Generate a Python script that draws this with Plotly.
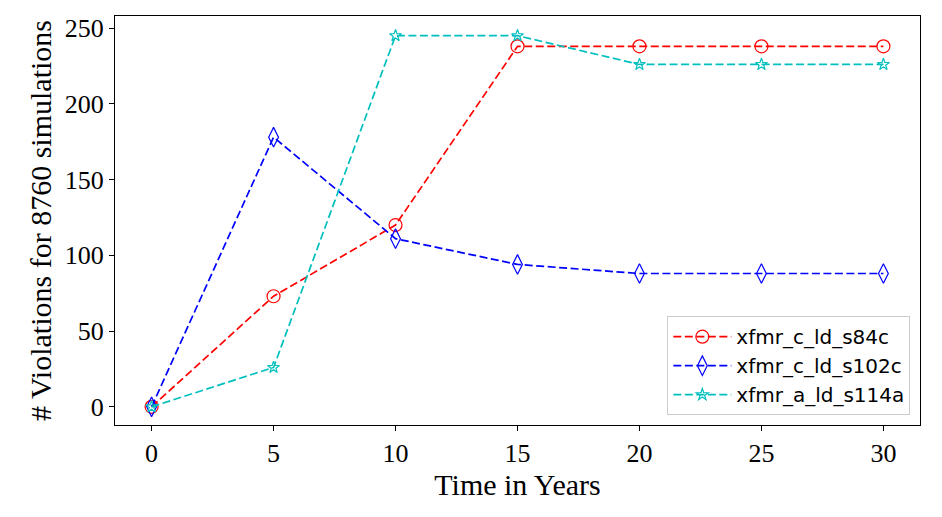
import plotly.graph_objects as go

years = [0, 5, 10, 15, 20, 25, 30]
s84c = [0, 73, 120, 238, 238, 238, 238]
s102c = [0, 178, 111, 94, 88, 88, 88]
s114a = [0, 26, 245, 245, 226, 226, 226]

series = [
    ("xfmr_c_ld_s84c", s84c, "red", "circle-open", 13),
    ("xfmr_c_ld_s102c", s102c, "blue", "diamond-tall-open", 14),
    ("xfmr_a_ld_s114a", s114a, "#00bfbf", "star-open", 9),
]

fig = go.Figure()
for name, vals, col, sym, size in series:
    fig.add_trace(go.Scatter(
        x=years, y=vals, name=name, mode="lines+markers",
        line=dict(color=col, dash="8px,3.5px", width=1.7),
        marker=dict(symbol=sym, size=size, color=col,
                    line=dict(color=col, width=1.2)),
    ))

axis_common = dict(
    showgrid=False, zeroline=False, showline=True, mirror=True,
    linecolor="black", linewidth=1.2, ticks="outside", ticklen=5,
    tickcolor="black", automargin=False,
    tickfont=dict(family="Liberation Serif", size=26, color="black"),
)

# page body has an 8px margin, so the figure is a bit smaller than the window
fig.update_layout(
    width=934, height=509,
    margin=dict(l=107, r=22, t=8, b=92),
    paper_bgcolor="white", plot_bgcolor="white",
    xaxis=dict(range=[-1.5, 31.5], tickvals=years,
               title=dict(text="Time in Years", standoff=2,
                          font=dict(family="Liberation Serif", size=30, color="black")),
               **axis_common),
    yaxis=dict(range=[-12, 258], tickvals=[0, 50, 100, 150, 200, 250],
               title=dict(text="# Violations for 8760 simulations", standoff=4,
                          font=dict(family="Liberation Serif", size=30, color="black")),
               **axis_common),
    legend=dict(x=0.988, y=0.024, xanchor="right", yanchor="bottom",
                bgcolor="white", bordercolor="#cccccc", borderwidth=1,
                font=dict(family="DejaVu Sans", size=20, color="black"),
                itemwidth=58, entrywidth=262, entrywidthmode="pixels",
                tracegroupgap=4),
    showlegend=True,
)

fig.write_html("out.html")
